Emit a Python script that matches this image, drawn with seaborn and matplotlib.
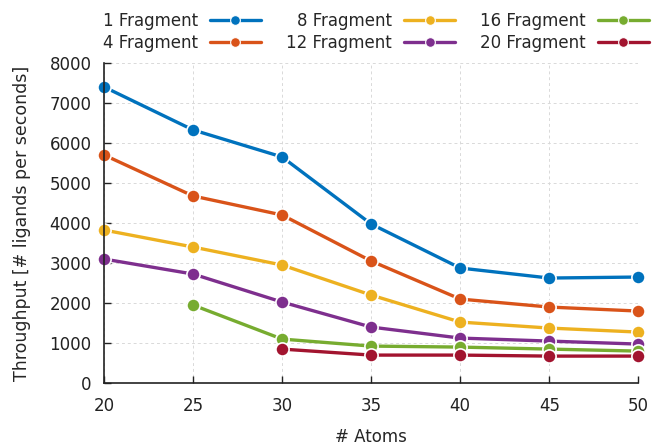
import matplotlib
matplotlib.use("Agg")
import matplotlib.pyplot as plt
import seaborn as sns
import pandas as pd

atoms = [20, 25, 30, 35, 40, 45, 50]
labels = ["1 Fragment", "4 Fragment", "8 Fragment", "12 Fragment", "16 Fragment", "20 Fragment"]
frag1 = [7400, 6325, 5650, 3975, 2875, 2625, 2650]
frag4 = [5700, 4675, 4200, 3050, 2100, 1900, 1800]
frag8 = [3825, 3400, 2950, 2200, 1525, 1375, 1275]
frag12 = [3100, 2725, 2025, 1400, 1125, 1050, 975]
frag16 = [None, 1950, 1100, 925, 900, 850, 800]
frag20 = [None, None, 850, 700, 700, 675, 675]
colors = ["#0072BD", "#D95319", "#EDB120", "#7E2F8E", "#77AC30", "#A2142F"]

rows = []
for lab, vals in zip(labels, [frag1, frag4, frag8, frag12, frag16, frag20]):
    for a, v in zip(atoms, vals):
        if v is not None:
            rows.append({"Atoms": a, "Throughput": v, "Series": lab})
df = pd.DataFrame(rows)

sns.set_style("white")
plt.rcParams['font.family'] = ['DejaVu Sans']
fig = plt.figure(figsize=(6.54, 4.46), dpi=100)
ax = fig.add_axes([0.159, 0.141, 0.817, 0.718])

sns.lineplot(data=df, x="Atoms", y="Throughput", hue="Series", hue_order=labels,
             palette=colors, marker="o", markersize=9.5, markeredgecolor="white",
             markeredgewidth=1.2, linewidth=2.4, ax=ax, legend=True, clip_on=False)

ax.set_xlim(20, 50)
ax.set_ylim(0, 8000)
ax.set_xticks(atoms)
ax.set_yticks(range(0, 8001, 1000))
ax.grid(True, linestyle=(0, (3, 3)), color="#d9d9d9", linewidth=0.7)
for s in ["top", "right"]:
    ax.spines[s].set_visible(False)
for s in ["left", "bottom"]:
    ax.spines[s].set_color("#222222")
    ax.spines[s].set_linewidth(1.2)
ax.tick_params(direction="in", length=5, width=1, labelsize=12, colors="#222222",
               left=True, bottom=True)
ax.tick_params(axis="y", pad=9)
ax.tick_params(axis="x", pad=10)
ax.set_xlabel("# Atoms", fontsize=12, labelpad=9)
ax.set_ylabel("Throughput [# ligands per seconds]", fontsize=12.5, labelpad=13)

handles, labs = ax.get_legend_handles_labels()
ax.get_legend().remove()
for h in handles:
    h.set_markersize(7)
    h.set_markeredgewidth(0.8)
fig.legend(handles, labs, ncol=3, loc="upper center", bbox_to_anchor=(0.575, 0.995),
           frameon=False, markerfirst=False, fontsize=12, handlelength=3.1,
           columnspacing=1.5, labelspacing=0.2, handletextpad=0.7, borderaxespad=0.2)

fig.savefig("out.png", dpi=100)
